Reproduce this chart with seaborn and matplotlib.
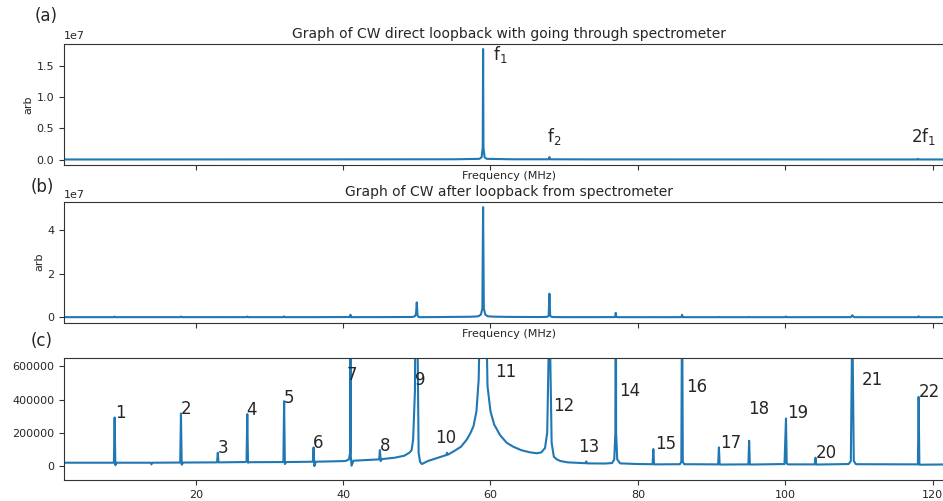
import matplotlib
matplotlib.use("Agg")
import matplotlib.pyplot as plt
import seaborn as sns
import pandas as pd

# ---------------- data ----------------
# Panel (a): CW direct loopback
freq_a = [2.13, 30.0, 55.0, 58.5, 58.8, 58.95, 59.0, 59.05, 59.2, 59.5, 63.0,
          67.9, 68.0, 68.1, 75.0, 117.9, 118.0, 118.1, 122.9]
amp_a = [5e4, 6e4, 8e4, 1.5e5, 4e5, 2e6, 1.767e7, 2e6, 4e5, 1.5e5, 8e4,
         8e4, 4.3e5, 8e4, 6e4, 5e4, 1.5e5, 5e4, 5e4]

# Panels (b) and (c): CW after loopback from spectrometer (same spectrum, (c) zoomed in y)
freq_bc = [2.13, 8.9, 9.0, 9.1, 9.3, 13.9, 14.0, 14.1, 17.9, 18.0, 18.1, 18.3,
           22.9, 23.0, 23.1, 26.8, 26.9, 27.0, 27.1, 27.3, 31.9, 32.0, 32.1, 32.3,
           35.9, 36.0, 36.1, 36.3, 40.3, 40.8, 40.95, 41.0, 41.05, 41.15, 41.4,
           44.9, 45.0, 45.1, 45.3, 47.0, 48.3, 49.0, 49.3, 49.5, 49.75, 49.9, 50.0,
           50.1, 50.25, 50.45, 50.7, 51.5, 53.0, 54.0, 54.1, 54.2, 55.0, 56.0, 56.8,
           57.3, 57.7, 58.1, 58.4, 58.7, 58.9, 59.0, 59.1, 59.3, 59.6, 60.0, 60.5, 61.3,
           62.2, 63.1, 64.2, 65.4, 66.3, 66.9, 67.4, 67.7, 67.9, 68.0, 68.1, 68.3,
           68.6, 69.0, 69.5, 70.5, 72.9, 73.0, 73.1, 75.5, 76.5, 76.8, 76.95, 77.0,
           77.05, 77.2, 77.6, 80.0, 82.0, 82.1, 82.2, 85.7, 85.9, 86.0, 86.1, 86.3,
           90.9, 91.0, 91.1, 95.0, 95.1, 95.2, 99.9, 100.1, 100.2, 100.4, 104.0,
           104.1, 104.2, 108.6, 108.9, 109.1, 109.3, 109.6, 118.0, 118.1, 118.2,
           122.9]
amp_bc = [20000, 20000, 292000, 5000, 20000, 20000, 10000, 20000, 21000, 316000, 8000, 21000,
          22000, 80000, 22000, 24000, 30000, 312000, 20000, 23000, 24000, 390000, 12000, 24000,
          26000, 112000, 0, 26000, 30000, 40000, 80000, 1.1e6, 60000, 2000, 32000,
          40000, 96000, 30000, 42000, 50000, 62000, 80000, 96000, 156000, 450000, 1.5e6, 6.8e6,
          8e5, 80000, 25000, 12000, 30000, 52000, 66000, 80000, 68000, 88000, 116000, 160000,
          200000, 240000, 330000, 520000, 1.2e6, 4e6, 5.05e7, 4e6, 1.2e6, 480000, 330000, 250000, 186000,
          140000, 116000, 95000, 82000, 77000, 82000, 108000, 200000, 7e5, 1.08e7, 7e5, 140000,
          56000, 40000, 30000, 22000, 17000, 28000, 16000, 15000, 18000, 40000, 200000, 2.0e6,
          200000, 40000, 16000, 12000, 11000, 102000, 10000, 11000, 25000, 1.1e6, 25000, 11000,
          10000, 112000, 9000, 10000, 152000, 9000, 12000, 286000, 15000, 10000, 10000,
          50000, 9000, 12000, 30000, 9e5, 30000, 11000, 10000, 416000, 8000,
          10000]

# Panel (a) peak labels
labels_a = ["f$_1$", "f$_2$", "2f$_1$"]
labels_a_x = [60.4, 67.7, 117.1]
labels_a_y = [1.52e7, 2.1e6, 2.1e6]

# Panel (c) peak numbers
labels_c = [str(i) for i in range(1, 23)]
labels_c_x = [9.07, 18.0, 23.0, 26.9, 32.0, 35.9, 40.5, 45.0, 49.7, 52.5, 60.6,
              68.5, 71.9, 77.5, 82.3, 86.5, 91.2, 95.0, 100.2, 104.2, 110.4, 118.1]
labels_c_y = [316000, 342000, 106000, 336000, 410000, 136000, 550000, 122000, 520000,
              170000, 566000, 360000, 116000, 450000, 130000, 476000, 140000, 346000,
              316000, 76000, 516000, 446000]

title_a = "Graph of CW direct loopback with going through spectrometer"
title_b = "Graph of CW after loopback from spectrometer"
xlabel = "Frequency (MHz)"
ylabel = "arb"

# ---------------- figure ----------------
sns.set_style("ticks")
plt.rcParams["font.family"] = ["DejaVu Sans"]
LINE = "#1f77b4"

W, H = 943, 501
fig = plt.figure(figsize=(W / 100, H / 100), dpi=100)

def box(left, top, right, bottom):
    return [left / W, 1 - bottom / H, (right - left) / W, (bottom - top) / H]

ax_a = fig.add_axes(box(64, 43.5, 954, 165))
ax_b = fig.add_axes(box(64, 201.7, 954, 322.7), sharex=ax_a)
ax_c = fig.add_axes(box(64, 358.3, 954, 480), sharex=ax_a)

df_a = pd.DataFrame({"freq": freq_a, "amp": amp_a})
df_bc = pd.DataFrame({"freq": freq_bc, "amp": amp_bc})

sns.lineplot(data=df_a, x="freq", y="amp", ax=ax_a, color=LINE, linewidth=1.5,
             estimator=None, sort=True)
sns.lineplot(data=df_bc, x="freq", y="amp", ax=ax_b, color=LINE, linewidth=1.5,
             estimator=None, sort=True)
sns.lineplot(data=df_bc, x="freq", y="amp", ax=ax_c, color=LINE, linewidth=1.5,
             estimator=None, sort=True)

ax_a.set_xlim(2.13, 122.9)
ax_c.set_ylim(-84000, 648000)
ax_c.set_yticks([0, 200000, 400000, 600000])
ax_c.set_xticks([20, 40, 60, 80, 100, 120])

for ax in (ax_a, ax_b, ax_c):
    for s in ax.spines.values():
        s.set_visible(True)
        s.set_color("#333333")
        s.set_linewidth(0.8)
    ax.tick_params(labelsize=8, length=3.5, width=0.8, color="#333333")
    ax.yaxis.get_offset_text().set_fontsize(8)
    ax.set_ylabel("")
    ax.set_xlabel("")

for ax in (ax_a, ax_b):
    ax.tick_params(labelbottom=False)
    ax.set_xlabel(xlabel, fontsize=8, labelpad=1)
    ax.set_ylabel(ylabel, fontsize=8, labelpad=2)

ax_a.set_title(title_a, fontsize=10, pad=4)
ax_b.set_title(title_b, fontsize=10, pad=4)

for t, x, y in zip(labels_a, labels_a_x, labels_a_y):
    ax_a.text(x, y, t, fontsize=12, ha="left", va="bottom")

for t, x, y in zip(labels_c, labels_c_x, labels_c_y):
    ax_c.text(x, y, t, fontsize=12, ha="left", va="center")

fig.text(35 / W, 1 - 16 / H, "(a)", fontsize=12, ha="left", va="center")
fig.text(31 / W, 1 - 186.7 / H, "(b)", fontsize=12, ha="left", va="center")
fig.text(31 / W, 1 - 340.7 / H, "(c)", fontsize=12, ha="left", va="center")

fig.savefig("out.png", dpi=100)
